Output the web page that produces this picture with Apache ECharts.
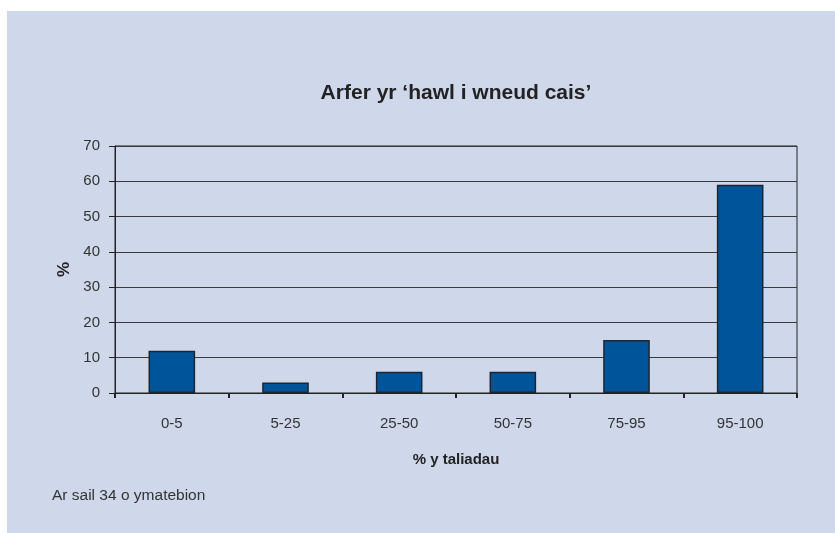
<!DOCTYPE html>
<html>
<head>
<meta charset="utf-8">
<script src="https://cdn.jsdelivr.net/npm/echarts@6/dist/echarts.min.js"></script>
<style>
  html, body { margin: 0; padding: 0; background: #ffffff; }
  #chart { width: 835px; height: 533px; }
</style>
</head>
<body>
<div id="chart"></div>
<script>
// categories and values (% of respondents, out of 34)
var categories = ['0-5', '5-25', '25-50', '50-75', '75-95', '95-100'];
var values = [12, 3, 6, 6, 15, 59];
var yTicks = [0, 10, 20, 30, 40, 50, 60, 70];

var chart = echarts.init(document.getElementById('chart'));
chart.setOption({
    animation: false,
    backgroundColor: '#ffffff',
    graphic: [
        {
            type: 'rect', z: -10, silent: true,
            shape: { x: 7, y: 11, width: 828, height: 522 },
            style: { fill: '#CFD8EA' }
        },
        {
            type: 'text', left: 52, top: 488,
            style: { text: 'Ar sail 34 o ymatebion', fill: '#333333', font: '15.5px "Liberation Sans", Arial, sans-serif' }
        }
    ],
    title: {
        text: 'Arfer yr \u2018hawl i wneud cais\u2019',
        left: 451, top: 78, textAlign: 'center',
        textStyle: { fontFamily: '"Liberation Sans", Arial, sans-serif', fontSize: 21, fontWeight: 'bold', color: '#222222' }
    },
    grid: {
        left: 115, right: 38, top: 146, bottom: 140,
        show: true, borderColor: '#222222', borderWidth: 1, backgroundColor: 'transparent'
    },
    xAxis: {
        type: 'category',
        data: categories,
        name: '% y taliadau',
        nameLocation: 'middle',
        nameGap: 59,
        nameTextStyle: { fontFamily: '"Liberation Sans", Arial, sans-serif', fontSize: 15, fontWeight: 'bold', color: '#222222' },
        axisLine: { lineStyle: { color: '#222222', width: 1 } },
        axisTick: { show: true, length: 5, inside: false, lineStyle: { color: '#222222', width: 2 } },
        axisLabel: { margin: 23, fontFamily: '"Liberation Sans", Arial, sans-serif', fontSize: 15, color: '#333333' }
    },
    yAxis: {
        type: 'value',
        min: yTicks[0], max: yTicks[yTicks.length - 1], interval: 10,
        name: '%',
        nameLocation: 'middle',
        nameRotate: 90,
        nameGap: 42,
        nameTextStyle: { fontFamily: '"Liberation Sans", Arial, sans-serif', fontSize: 17, fontWeight: 'bold', color: '#222222' },
        axisLine: { show: true, lineStyle: { color: '#222222', width: 1 } },
        axisTick: { show: true, length: 6, lineStyle: { color: '#222222' } },
        axisLabel: { margin: 15, fontFamily: '"Liberation Sans", Arial, sans-serif', fontSize: 15, color: '#333333' },
        splitLine: { show: true, lineStyle: { color: '#3a3a3a', width: 1 } }
    },
    series: [{
        type: 'bar',
        data: values,
        barWidth: '41%',
        itemStyle: { color: '#00559A', borderColor: '#1c2633', borderWidth: 1.5 }
    }]
});
</script>
</body>
</html>
